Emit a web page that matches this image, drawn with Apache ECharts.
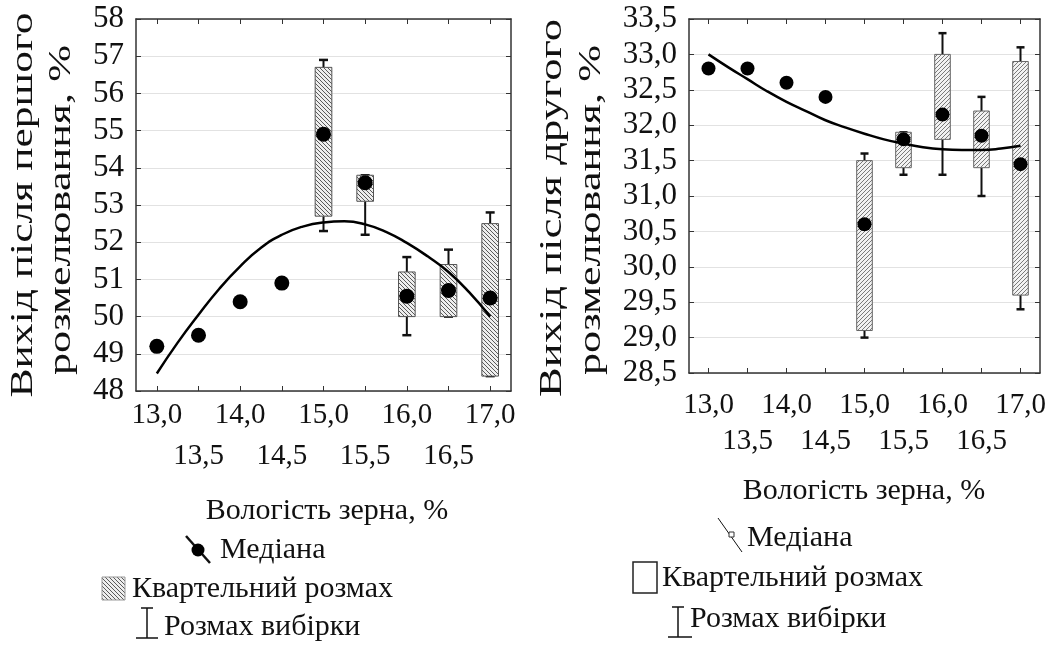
<!DOCTYPE html>
<html><head><meta charset="utf-8">
<script src="https://cdn.jsdelivr.net/npm/echarts/dist/echarts.min.js"></script>
<style>html,body{margin:0;padding:0;background:#fff}#c{width:1054px;height:645px}</style>
</head><body><div id="c"></div>
<script>
// ---------- data ----------
const categories = ['13,0','13,5','14,0','14,5','15,0','15,5','16,0','16,5','17,0'];
// Panel 1: first grinding yield, %
const median1 = [49.2, 49.5, 50.4, 50.9, 54.9, 53.6, 50.55, 50.7, 50.5];
const q1_1   = [null, null, null, null, 52.7, 53.1, 50.0, 50.0, 48.4];
const q3_1   = [null, null, null, null, 56.7, 53.8, 51.2, 51.4, 52.5];
const min1   = [null, null, null, null, 52.3, 52.2, 49.5, 50.0, 48.4];
const max1   = [null, null, null, null, 56.9, 53.8, 51.6, 51.8, 52.8];
// fitted curves
const fitX   = [13.0, 13.25, 13.5, 13.75, 14.0, 14.25, 14.5, 14.75, 15.0, 15.25, 15.5, 15.75, 16.0, 16.25, 16.5, 16.75, 17.0];
const fit1   = [48.47, 49.3, 50.05, 50.75, 51.35, 51.85, 52.2, 52.42, 52.53, 52.56, 52.48, 52.28, 51.98, 51.62, 51.2, 50.65, 50.0];
// Panel 2: second grinding yield, %
const median2 = [32.8, 32.8, 32.6, 32.4, 30.6, 31.8, 32.15, 31.85, 31.45];
const q1_2   = [null, null, null, null, 29.1, 31.4, 31.8, 31.4, 29.6];
const q3_2   = [null, null, null, null, 31.5, 31.9, 33.0, 32.2, 32.9];
const min2   = [null, null, null, null, 29.0, 31.3, 31.3, 31.0, 29.4];
const max2   = [null, null, null, null, 31.6, 31.9, 33.3, 32.4, 33.1];
const fit2   = [33.0, 32.82, 32.65, 32.48, 32.33, 32.2, 32.07, 31.97, 31.88, 31.8, 31.74, 31.69, 31.66, 31.65, 31.65, 31.67, 31.71];

const yTitle1 = ['Вихід після першого', 'розмелювання, %'];
const yTitle2 = ['Вихід після другого', 'розмелювання, %'];
const xTitle = 'Вологість зерна, %';
const legendLabels = ['Медіана', 'Квартельний розмах', 'Розмах вибірки'];

// ---------- helpers ----------
const FONT = '"Liberation Serif","Times New Roman",serif';
function hatch(dir, bg, fg, s) {
  const c = document.createElement('canvas');
  c.width = s; c.height = s;
  const g = c.getContext('2d');
  g.fillStyle = bg; g.fillRect(0, 0, s, s);
  g.strokeStyle = fg; g.lineWidth = 1;
  g.beginPath();
  for (const x0 of [-s, 0, s]) {
    if (dir === 'back') { g.moveTo(x0, 0); g.lineTo(x0 + s, s); }
    else { g.moveTo(x0 + s, 0); g.lineTo(x0, s); }
  }
  g.stroke();
  return {image: c, repeat: 'repeat'};
}
const pat1 = hatch('back', '#eeeeee', '#5a5a5a', 4);
const pat2 = hatch('fwd', '#f2f2f2', '#7a7a7a', 4);

function boxData(q1, q3, mn, mx) {
  const out = [];
  q1.forEach((v, i) => { if (v !== null) out.push([i, v, q3[i], mn[i], mx[i]]); });
  return out;
}
function boxRender(pattern, capW, edge) {
  return function (params, api) {
    const i = api.value(0);
    const a = api.coord([i, api.value(1)]);
    const b = api.coord([i, api.value(2)]);
    const lo = api.coord([i, api.value(3)]);
    const hi = api.coord([i, api.value(4)]);
    const w = api.size([1, 0])[0] * 0.4;
    const x = a[0];
    const ls = {stroke: '#111', lineWidth: 2};
    return {type: 'group', children: [
      {type: 'line', shape: {x1: x, y1: b[1], x2: x, y2: hi[1]}, style: ls},
      {type: 'line', shape: {x1: x, y1: a[1], x2: x, y2: lo[1]}, style: ls},
      {type: 'line', shape: {x1: x - capW / 2, y1: hi[1], x2: x + capW / 2, y2: hi[1]}, style: {stroke: '#111', lineWidth: 2.5}},
      {type: 'line', shape: {x1: x - capW / 2, y1: lo[1], x2: x + capW / 2, y2: lo[1]}, style: {stroke: '#111', lineWidth: 2.5}},
      {type: 'rect', shape: {x: x - w / 2, y: b[1], width: w, height: a[1] - b[1]},
       style: {fill: pattern, stroke: edge, lineWidth: 1}}
    ]};
  };
}
function fmt1(v) { return String(v); }
function fmt2(v) { return v.toFixed(1).replace('.', ','); }

function axesFor(gi, yMin, yMax, yInt, yFmt, labMargin, lh, ySize) {
  const line = {show: true, lineStyle: {color: '#333', width: 1.5}};
  const tick = {show: true, inside: true, length: 5, lineStyle: {color: '#333', width: 1}};
  return {
    x: [
      {type: 'category', gridIndex: gi, data: categories, position: 'bottom', boundaryGap: true,
       axisLine: line, axisTick: Object.assign({alignWithLabel: true, interval: 0}, tick),
       axisLabel: {interval: 0, fontFamily: FONT, fontSize: 29, color: '#111', margin: labMargin, lineHeight: lh,
                   formatter: (v, i) => (i % 2 ? '\n' + v : v)},
       splitLine: {show: false}},
      {type: 'category', gridIndex: gi, data: categories, position: 'top', boundaryGap: true,
       axisLine: line, axisTick: Object.assign({alignWithLabel: true, interval: 0}, tick),
       axisLabel: {show: false}, splitLine: {show: false}}
    ],
    xv: {type: 'value', gridIndex: gi, min: 12.75, max: 17.25, show: false},
    y: [
      {type: 'value', gridIndex: gi, min: yMin, max: yMax, interval: yInt, position: 'left',
       axisLine: line, axisTick: tick,
       axisLabel: {fontFamily: FONT, fontSize: ySize, color: '#111', margin: 12, formatter: yFmt},
       splitLine: {show: true, lineStyle: {color: '#e2e2e2', width: 1}}},
      {type: 'value', gridIndex: gi, min: yMin, max: yMax, interval: yInt, position: 'right',
       axisLine: line, axisTick: tick, axisLabel: {show: false}, splitLine: {show: false}}
    ]
  };
}
const ax1 = axesFor(0, 48, 58, 1, fmt1, 4, 41, 31);
const ax2 = axesFor(1, 28.5, 33.5, 0.5, fmt2, 14, 36, 31);

// measure text to fit the tall vertical titles
const mctx = document.createElement('canvas').getContext('2d');
function vText(txt, x, y, len, size) {
  mctx.font = size + 'px ' + FONT;
  const w = mctx.measureText(txt).width;
  return {type: 'text', x: x, y: y, rotation: Math.PI / 2, scaleX: len / w,
          style: {text: txt, font: size + 'px ' + FONT, fill: '#111', align: 'center', verticalAlign: 'middle'}};
}
function hText(txt, x, y, align) {
  return {type: 'text', x: x, y: y,
          style: {text: txt, font: '30px ' + FONT, fill: '#111', align: align || 'left', verticalAlign: 'middle'}};
}
function seg(x1, y1, x2, y2, w) {
  return {type: 'line', shape: {x1, y1, x2, y2}, style: {stroke: '#111', lineWidth: w || 1.5}};
}

const graphics = [
  vText(yTitle1[0], 24, 205, 385, 31),
  vText(yTitle1[1], 62, 210, 330, 31),
  vText(yTitle2[0], 553, 208, 378, 31),
  vText(yTitle2[1], 592, 210, 330, 31),
  hText(xTitle, 327, 511, 'center'),
  hText(xTitle, 864, 491, 'center'),
  // left legend
  seg(186, 536, 210, 563, 2.5),
  {type: 'circle', shape: {cx: 198, cy: 550, r: 6.5}, style: {fill: '#000'}},
  hText(legendLabels[0], 220, 550),
  {type: 'rect', shape: {x: 102, y: 577, width: 23, height: 23}, style: {fill: pat1, stroke: '#999', lineWidth: 1}},
  hText(legendLabels[1], 132, 589),
  seg(147, 608, 147, 638), seg(141, 608, 153, 608), seg(136, 638, 158, 638),
  hText(legendLabels[2], 164, 627),
  // right legend
  seg(718, 518, 742, 552, 1),
  {type: 'rect', shape: {x: 729, y: 532, width: 5, height: 5}, style: {fill: '#fff', stroke: '#333', lineWidth: 1}},
  hText(legendLabels[0], 747, 538),
  {type: 'rect', shape: {x: 633, y: 562, width: 24, height: 31}, style: {fill: '#fff', stroke: '#222', lineWidth: 1.5}},
  hText(legendLabels[1], 662, 578),
  seg(678, 607, 678, 637), seg(672, 607, 684, 607), seg(668, 637, 692, 637),
  hText(legendLabels[2], 690, 619)
];

const chart = echarts.init(document.getElementById('c'), null, {renderer: 'canvas'});
chart.setOption({
  backgroundColor: '#fff',
  animation: false,
  grid: [
    {left: 136, top: 19, width: 375, height: 372, outerBoundsMode: 'none', containLabel: false},
    {left: 689, top: 19, width: 351, height: 354, outerBoundsMode: 'none', containLabel: false}
  ],
  // x axes: 0,1 = panel 1 categories; 2,3 = panel 2 categories; 4 = panel 1 value; 5 = panel 2 value
  xAxis: ax1.x.concat(ax2.x, [ax1.xv, ax2.xv]),
  yAxis: ax1.y.concat(ax2.y),
  series: [
    {type: 'custom', xAxisIndex: 0, yAxisIndex: 0, z: 2, data: boxData(q1_1, q3_1, min1, max1),
     encode: {x: 0, y: [1, 2, 3, 4]}, renderItem: boxRender(pat1, 9, '#555')},
    {type: 'line', xAxisIndex: 4, yAxisIndex: 0, z: 3, data: fitX.map((x, i) => [x, fit1[i]]), smooth: true, symbol: 'none',
     lineStyle: {color: '#000', width: 2.5}},
    {type: 'scatter', xAxisIndex: 0, yAxisIndex: 0, z: 4, data: median1, symbolSize: 15,
     itemStyle: {color: '#000', opacity: 1}},
    {type: 'custom', xAxisIndex: 2, yAxisIndex: 2, z: 2, data: boxData(q1_2, q3_2, min2, max2),
     encode: {x: 0, y: [1, 2, 3, 4]}, renderItem: boxRender(pat2, 8, '#666')},
    {type: 'line', xAxisIndex: 5, yAxisIndex: 2, z: 3, data: fitX.map((x, i) => [x, fit2[i]]), smooth: true, symbol: 'none',
     lineStyle: {color: '#000', width: 2.5}},
    {type: 'scatter', xAxisIndex: 2, yAxisIndex: 2, z: 4, data: median2, symbolSize: 14,
     itemStyle: {color: '#000', opacity: 1}}
  ],
  graphic: graphics
});
</script>
</body></html>
